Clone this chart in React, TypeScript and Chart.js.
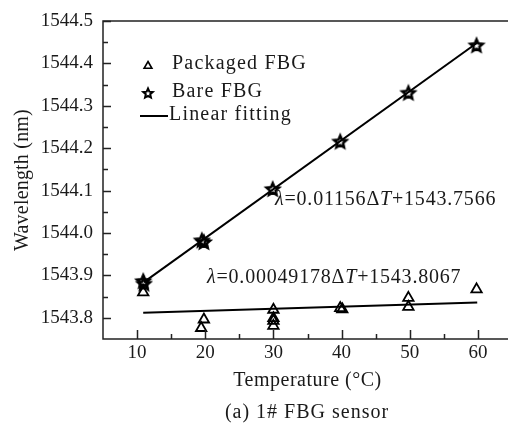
import React, { useEffect, useRef } from "react";
import { Chart, registerables } from "chart.js";

Chart.register(...registerables);

// ---- data ----
const packagedX = [10.9, 19.4, 19.8, 30, 30, 30, 30, 39.8, 40.1, 49.8, 49.8, 59.8];
const packagedY = [1543.860, 1543.776, 1543.796, 1543.819, 1543.799, 1543.793, 1543.781, 1543.823, 1543.820, 1543.847, 1543.826, 1543.867];
const bareX = [10.9, 11.0, 19.5, 19.8, 29.9, 39.8, 49.8, 59.8];
const bareY = [1543.887, 1543.881, 1543.983, 1543.979, 1544.104, 1544.216, 1544.331, 1544.443];
const bareFitX = [11, 60];
const bareFitY = [1543.884, 1544.450];
const packFitX = [10.9, 59.9];
const packFitY = [1543.812, 1543.836];
const xTicks = [10, 20, 30, 40, 50, 60];
const xMinorTicks = [15, 25, 35, 45, 55];
const yTicks = [1543.8, 1543.9, 1544.0, 1544.1, 1544.2, 1544.3, 1544.4, 1544.5];
const yMinorTicks = [1543.85, 1543.95, 1544.05, 1544.15, 1544.25, 1544.35, 1544.45];
const legendLabels = ["Packaged FBG", "Bare FBG", "Linear fitting"];
const xTitle = "Temperature (°C)";
const yTitle = "Wavelength (nm)";
const caption = "(a) 1# FBG sensor";
const bareEq = [["λ", true], ["=0.01156Δ", false], ["T", true], ["+1543.7566", false]] as [string, boolean][];
const packEq = [["λ", true], ["=0.00049178Δ", false], ["T", true], ["+1543.8067", false]] as [string, boolean][];

const FAMILY = "'Liberation Serif', 'Times New Roman', serif";
const INK = "#1a1a1a";
const AREA = { left: 103, right: 512, top: 21, bottom: 339 };

function makeStar(outer: number, inner: number, lw: number) {
  const size = Math.ceil(outer * 2 + lw * 2 + 2);
  const c = document.createElement("canvas");
  c.width = size;
  c.height = size;
  const g = c.getContext("2d")!;
  const cx = size / 2, cy = size / 2 + outer * 0.1;
  g.beginPath();
  for (let i = 0; i < 10; i++) {
    const ang = -Math.PI / 2 + (i * Math.PI) / 5;
    const r = i % 2 === 0 ? outer : inner;
    const px = cx + Math.cos(ang) * r;
    const py = cy + Math.sin(ang) * r;
    if (i === 0) g.moveTo(px, py);
    else g.lineTo(px, py);
  }
  g.closePath();
  g.lineJoin = "miter";
  g.lineWidth = lw;
  g.strokeStyle = "#000";
  g.stroke();
  return c;
}

export default function App() {
  const ref = useRef<HTMLCanvasElement>(null);

  useEffect(() => {
    const canvas = ref.current!;
    const star = makeStar(6.5, 3, 2.5);
    const legendStar = makeStar(5, 2.3, 2);

    const decor = {
      id: "decor",
      afterDraw(chart: any) {
        const { ctx, chartArea: a, scales } = chart;
        const xs = scales.x, ys = scales.y;
        ctx.save();
        // frame: left, bottom and top (right side lies beyond the visible picture)
        ctx.strokeStyle = "#222";
        ctx.lineWidth = 1.5;
        ctx.beginPath();
        ctx.moveTo(chart.width, a.top);
        ctx.lineTo(a.left, a.top);
        ctx.lineTo(a.left, a.bottom);
        ctx.lineTo(chart.width, a.bottom);
        ctx.stroke();
        // inward ticks
        ctx.beginPath();
        for (const v of xTicks) {
          const p = Math.round(xs.getPixelForValue(v)) + 0.5;
          ctx.moveTo(p, a.bottom);
          ctx.lineTo(p, a.bottom - 9);
        }
        for (const v of xMinorTicks) {
          const p = Math.round(xs.getPixelForValue(v)) + 0.5;
          ctx.moveTo(p, a.bottom);
          ctx.lineTo(p, a.bottom - 5);
        }
        for (const v of yTicks) {
          const p = Math.round(ys.getPixelForValue(v)) + 0.5;
          ctx.moveTo(a.left, p);
          ctx.lineTo(a.left + 8, p);
        }
        for (const v of yMinorTicks) {
          const p = Math.round(ys.getPixelForValue(v)) + 0.5;
          ctx.moveTo(a.left, p);
          ctx.lineTo(a.left + 5, p);
        }
        ctx.stroke();

        const text = (s: string, x: number, y: number, align: CanvasTextAlign, spacing: number) => {
          ctx.font = `20px ${FAMILY}`;
          (ctx as any).letterSpacing = spacing + "px";
          ctx.textAlign = align;
          ctx.textBaseline = "middle";
          ctx.fillStyle = INK;
          ctx.fillText(s, x, y);
        };
        const rich = (segs: [string, boolean][], x: number, y: number) => {
          let cx = x;
          for (const [s, it] of segs) {
            ctx.font = `${it ? "italic " : ""}20px ${FAMILY}`;
            (ctx as any).letterSpacing = "0.8px";
            ctx.textAlign = "left";
            ctx.textBaseline = "middle";
            ctx.fillStyle = INK;
            ctx.fillText(s, cx, y);
            cx += ctx.measureText(s).width;
          }
        };

        // axis titles
        text(xTitle, 307.5, 381, "center", 0.5);
        ctx.save();
        ctx.translate(23, (a.top + a.bottom) / 2);
        ctx.rotate(-Math.PI / 2);
        text(yTitle, 0, 0, "center", 0.2);
        ctx.restore();
        // caption
        text(caption, 307, 413, "center", 1);

        // legend
        ctx.strokeStyle = "#000";
        ctx.lineWidth = 1.6;
        ctx.beginPath();
        const tx = 148, ty = 66, tr = 4.5;
        ctx.moveTo(tx, ty - tr);
        ctx.lineTo(tx + tr * 0.866, ty + tr * 0.5);
        ctx.lineTo(tx - tr * 0.866, ty + tr * 0.5);
        ctx.closePath();
        ctx.stroke();
        ctx.drawImage(legendStar, 148 - legendStar.width / 2, 93 - legendStar.height / 2);
        ctx.lineWidth = 2;
        ctx.beginPath();
        ctx.moveTo(140, 116);
        ctx.lineTo(168, 116);
        ctx.stroke();
        text(legendLabels[0], 172, 64, "left", 1.2);
        text(legendLabels[1], 172, 92, "left", 1.2);
        text(legendLabels[2], 169, 115, "left", 1.2);

        // equations
        rich(bareEq, 275, 200);
        rich(packEq, 207, 278);
        ctx.restore();
      },
    };

    const chart: any = new Chart(canvas, {
      type: "scatter",
      data: {
        datasets: [
          {
            label: legendLabels[0],
            data: packagedX.map((x, i) => ({ x, y: packagedY[i] })),
            pointStyle: "triangle",
            pointRadius: 6,
            borderColor: "#000",
            backgroundColor: "rgba(0,0,0,0)",
            borderWidth: 1.8,
            order: 0,
          },
          {
            label: legendLabels[1],
            data: bareX.map((x, i) => ({ x, y: bareY[i] })),
            pointStyle: star as any,
            pointRadius: 7,
            order: 0,
          },
          {
            label: "bare fit",
            data: bareFitX.map((x, i) => ({ x, y: bareFitY[i] })),
            showLine: true,
            pointRadius: 0,
            borderColor: "#000",
            borderWidth: 2,
            order: 1,
          },
          {
            label: "packaged fit",
            data: packFitX.map((x, i) => ({ x, y: packFitY[i] })),
            showLine: true,
            pointRadius: 0,
            borderColor: "#000",
            borderWidth: 2,
            order: 1,
          },
        ],
      },
      options: {
        responsive: false,
        animation: false,
        layout: { padding: { top: 21, right: 0, left: 0, bottom: 0 } },
        plugins: { legend: { display: false }, tooltip: { enabled: false } },
        scales: {
          x: {
            type: "linear",
            min: 5,
            max: 65,
            grid: { display: false, drawTicks: false },
            border: { display: false },
            ticks: {
              font: { family: FAMILY, size: 19 },
              color: INK,
              padding: 3,
              callback: (v: any) => String(v),
            },
            afterBuildTicks: (s: any) => {
              s.ticks = xTicks.map((v) => ({ value: v }));
            },
            afterFit: (s: any) => {
              s.height = 89;
              s.paddingLeft = 0;
              s.paddingRight = 0;
            },
          },
          y: {
            type: "linear",
            min: 1543.75,
            max: 1544.5,
            grid: { display: false, drawTicks: false },
            border: { display: false },
            ticks: {
              font: { family: FAMILY, size: 19 },
              color: INK,
              padding: 10,
              callback: (v: any) => Number(v).toFixed(1),
            },
            afterBuildTicks: (s: any) => {
              s.ticks = yTicks.map((v) => ({ value: v }));
            },
            afterFit: (s: any) => {
              s.width = 103;
              s.paddingTop = 0;
              s.paddingBottom = 0;
            },
          },
        },
      },
      plugins: [decor],
    });

    // nudge layout padding so the plot area lands where the reference has it
    for (let k = 0; k < 3; k++) {
      const a = chart.chartArea;
      const p = chart.options.layout.padding;
      const dl = a.left - AREA.left;
      const dr = a.right - AREA.right;
      const dt = a.top - AREA.top;
      const db = a.bottom - AREA.bottom;
      if (Math.abs(dl) < 0.5 && Math.abs(dr) < 0.5 && Math.abs(dt) < 0.5 && Math.abs(db) < 0.5) break;
      chart.options.layout.padding = {
        left: Math.max(0, p.left - dl),
        right: Math.max(0, p.right + dr),
        top: Math.max(0, p.top - dt),
        bottom: Math.max(0, p.bottom + db),
      };
      chart.update();
    }

    return () => chart.destroy();
  }, []);

  return (
    <div
      style={{
        position: "absolute",
        left: 0,
        top: 0,
        width: 508,
        height: 428,
        overflow: "hidden",
        background: "#fff",
      }}
    >
      <canvas ref={ref} width={520} height={428} style={{ display: "block" }} />
    </div>
  );
}
